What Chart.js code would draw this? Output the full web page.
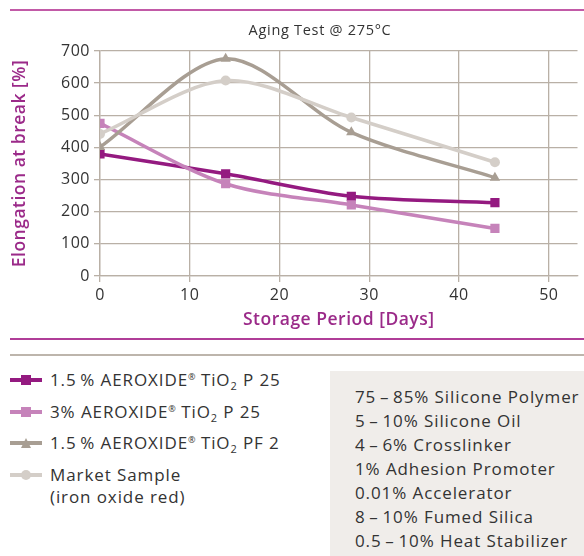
<!DOCTYPE html>
<html>
<head>
<meta charset="utf-8">
<script src="https://cdn.jsdelivr.net/npm/chart.js@4/dist/chart.umd.min.js"></script>
<style>
  body { margin: 0; background: #fff; font-family: "Open Sans", sans-serif; color: #333; }
  #wrap { position: relative; width: 584px; height: 556px; overflow: hidden; }
  #chartBox { position: absolute; left: 0; top: 0; width: 584px; height: 340px; }
  #title { position: absolute; left: 0; width: 640px; top: 19px; text-align: center; font-size: 14.5px; letter-spacing: 0.7px; line-height: 22px; }
  .rule { position: absolute; left: 10px; right: 0; height: 2px; }
  #legend { position: absolute; left: 10px; top: 369px; font-size: 17px; letter-spacing: 0.9px; }
  .item { position: relative; padding-left: 40px; white-space: nowrap; line-height: 22px; margin-bottom: 9.5px; }
  .item .ln { position: absolute; left: 0; top: 9px; width: 32px; height: 4px; }
  .item .mk { position: absolute; left: 11px; top: 6px; width: 10px; height: 10px; }
  .item sup { font-size: 9px; line-height: 0; vertical-align: 6px; letter-spacing: 0; }
  .item sub { font-size: 11px; line-height: 0; vertical-align: -4px; }
  #recipe { position: absolute; left: 330px; top: 371px; width: 254px; height: 185px; background: #f0edea; }
  #recipe div { position: absolute; left: 25px; font-size: 17px; letter-spacing: 0.9px; white-space: nowrap; line-height: 24px; }
</style>
</head>
<body>
<div id="wrap">
  <div class="rule" style="top:9px;background:#c25aa7"></div>
  <div id="chartBox"><canvas id="chartAging"></canvas></div>
  <div id="title">Aging Test @ 275°C</div>
  <div class="rule" style="top:338px;background:#b03d98"></div>
  <div class="rule" style="top:354px;height:2px;background:#bdb5ac"></div>
  <div id="legend"></div>
  <div id="recipe"></div>
</div>
<script>
// data
const days = [0, 14, 28, 44];
const tio2P25Low = [380, 318, 248, 228];
const tio2P25High = [475, 287, 221, 148];
const tio2PF2 = [401, 676, 447, 306];
const marketSample = [442, 608, 493, 354];
const xTicks = [0, 10, 20, 30, 40, 50];
const yTicks = [0, 100, 200, 300, 400, 500, 600, 700];

const seriesNames = [
    "1.5\u2009% AEROXIDE\u00ae TiO\u2082 P 25",
    "3% AEROXIDE\u00ae TiO\u2082 P 25",
    "1.5\u2009% AEROXIDE\u00ae TiO\u2082 PF 2",
    "Market Sample (iron oxide red)"
];
const legendHtml = [
    "1.5\u2009% AEROXIDE<sup>\u00ae</sup> TiO<sub>2</sub> P 25",
    "3% AEROXIDE<sup>\u00ae</sup> TiO<sub>2</sub> P 25",
    "1.5\u2009% AEROXIDE<sup>\u00ae</sup> TiO<sub>2</sub> PF 2",
    "Market Sample<br>(iron oxide red)"
];
const seriesColors = ["#941a80", "#c683ba", "#a89e93", "#d4cec8"];
const pointShapes = ["rect", "rect", "triangle", "circle"];

const recipeLines = [
    "75\u2009\u2013\u200985% Silicone Polymer",
    "5\u2009\u2013\u200910% Silicone Oil",
    "4\u2009\u2013\u20096% Crosslinker",
    "1% Adhesion Promoter",
    "0.01% Accelerator",
    "8\u2009\u2013\u200910% Fumed Silica",
    "0.5\u2009\u2013\u200910% Heat Stabilizer"
];

const fontFam = '"Open Sans", sans-serif';
const gridCol = "#b9b0a6";
const titleCol = "#9b2a89";

const allSeries = [tio2P25Low, tio2P25High, tio2PF2, marketSample];
const datasets = allSeries.map((vals, i) => ({
    label: seriesNames[i],
    data: days.map((d, k) => ({ x: d, y: vals[k] })),
    borderColor: seriesColors[i],
    backgroundColor: seriesColors[i],
    borderWidth: 3.5,
    tension: 0.3,
    pointStyle: pointShapes[i],
    pointRadius: pointShapes[i] === "rect" ? 6.5 : (pointShapes[i] === "triangle" ? 6 : 5),
    pointBorderWidth: 0
}));
// dunkle Linien oben zeichnen
datasets.reverse();

// etwas Zeichenabstand wie im Original
const spacingPlugin = {
    id: 'spacing',
    beforeLayout: (chart) => { chart.ctx.letterSpacing = '0.5px'; },
    beforeDraw: (chart) => { chart.ctx.letterSpacing = '0.5px'; }
};

const ctx = document.getElementById('chartAging');
new Chart(ctx, {
    type: 'line',
    data: { datasets: datasets },
    plugins: [spacingPlugin],
    options: {
        responsive: true,
        maintainAspectRatio: false,
        animation: false,
        layout: { padding: { left: 0, right: 0, top: 51, bottom: 0 } },
        plugins: {
            legend: { display: false },
            tooltip: { enabled: false },
            title: { display: false }
        },
        scales: {
            x: {
                type: 'linear',
                min: 0,
                max: 53.2,
                afterBuildTicks: (axis) => { axis.ticks = xTicks.map(v => ({ value: v })); },
                afterFit: (axis) => { axis.height = 64; },
                ticks: { color: "#333", font: { family: fontFam, size: 16 }, padding: 4 },
                grid: { color: gridCol, lineWidth: 1.3, tickLength: 6, drawOnChartArea: true },
                border: { color: gridCol, width: 1.3 },
                title: {
                    display: true,
                    text: "Storage Period [Days]",
                    color: titleCol,
                    font: { family: fontFam, size: 17.5, weight: '600', lineHeight: 1.2 },
                    padding: { top: 0, bottom: 9 }
                }
            },
            y: {
                min: 0,
                max: 700,
                afterBuildTicks: (axis) => { axis.ticks = yTicks.map(v => ({ value: v })); },
                afterFit: (axis) => { axis.width = 100; },
                ticks: { color: "#333", font: { family: fontFam, size: 16 }, padding: 4 },
                grid: { color: gridCol, lineWidth: 1.3, tickLength: 6 },
                border: { color: gridCol, width: 1.3 },
                title: {
                    display: true,
                    text: "Elongation at break [%]",
                    color: titleCol,
                    font: { family: fontFam, size: 17.5, weight: '600', lineHeight: 1.2 },
                    padding: { top: 10, bottom: 0 }
                }
            }
        }
    }
});

// Legende unter dem Diagramm
const legend = document.getElementById('legend');
legendHtml.forEach((txt, i) => {
    const item = document.createElement('div');
    item.className = 'item';
    const ln = document.createElement('div');
    ln.className = 'ln';
    ln.style.background = seriesColors[i];
    const mk = document.createElement('div');
    mk.className = 'mk';
    mk.style.background = seriesColors[i];
    if (pointShapes[i] === 'circle') mk.style.borderRadius = '50%';
    if (pointShapes[i] === 'triangle') mk.style.clipPath = 'polygon(50% 0, 100% 100%, 0 100%)';
    item.appendChild(ln);
    item.appendChild(mk);
    const span = document.createElement('span');
    span.innerHTML = txt;
    item.appendChild(span);
    legend.appendChild(item);
});

// Rezeptur-Kasten
const recipe = document.getElementById('recipe');
recipeLines.forEach((t, i) => {
    const d = document.createElement('div');
    d.textContent = t;
    d.style.top = (14 + i * 24) + 'px';
    recipe.appendChild(d);
});
</script>
</body>
</html>
